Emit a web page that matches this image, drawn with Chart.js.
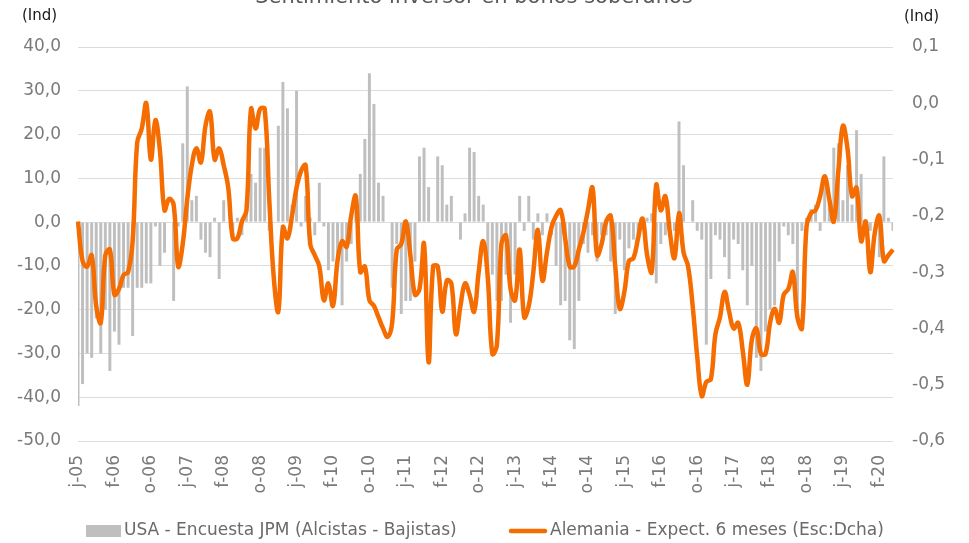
<!DOCTYPE html>
<html>
<head>
<meta charset="utf-8">
<script src="https://cdn.jsdelivr.net/npm/chart.js@4/dist/chart.umd.min.js"></script>
<style>body{margin:0;background:#fff}</style>
</head>
<body>
<canvas id="chartS" width="969" height="543"></canvas>
<script>
var titulo = 'Sentimiento inversor en bonos soberanos';
var unidad = '(Ind)';
var startYear = 2005, startMonth = 5; // junio 2005
var mesIni = ['e','f','m','a','m','j','j','a','s','o','n','d'];

// USA - Encuesta JPM (Alcistas - Bajistas), eje izq.
var encuestaUSA = [
  -42,-37,-30,-31,-22,-30,-20,-34,-25,-28,
  -15,-15,-26,-15,-15,-14,-14,-1,-10,-7,
  0,-18,-1,18,31,5,6,-4,-7,-8,
  1,-13,5,0,-3,1,-3,2,11,9,
  17,17,-2,0,22,32,26,4,30,-1,
  6,1,-3,9,-1,-11,-9,-10,-19,-9,
  -5,3,11,19,34,27,9,6,0,-15,
  -5,-21,-18,-18,-9,15,17,8,0,15,
  13,4,6,0,-4,2,17,16,6,4,
  -12,-12,-18,-18,-12,-23,-12,6,-2,6,
  -4,2,-3,2,-3,-10,-19,-18,-27,-29,
  -18,-5,-7,-3,-9,-3,-3,-9,-21,-4,
  -11,-6,-4,-3,-1,1,2,-14,-5,-3,
  -1,-2,23,13,0,5,-2,-4,-28,-13,
  -3,-4,-8,-13,-4,-5,-11,-19,-10,-31,
  -34,-25,-20,-19,-9,-1,-3,-5,-21,-2,
  1,3,4,-2,11,5,17,18,5,13,
  4,21,11,-2,-2,0,-8,15,1,-2
];

// Alemania - Expect. 6 meses, eje dcho.
var expectAlemania = [
  -0.21,-0.28,-0.29,-0.27,-0.36,-0.39,-0.27,-0.26,-0.34,-0.33,
  -0.305,-0.30,-0.245,-0.07,-0.045,0.0,-0.10,-0.03,-0.085,-0.19,
  -0.17,-0.18,-0.29,-0.25,-0.17,-0.11,-0.08,-0.105,-0.04,-0.015,
  -0.10,-0.08,-0.11,-0.15,-0.24,-0.24,-0.21,-0.19,-0.01,-0.045,
  -0.01,-0.01,-0.17,-0.31,-0.37,-0.22,-0.24,-0.20,-0.15,-0.12,
  -0.11,-0.25,-0.27,-0.29,-0.35,-0.32,-0.36,-0.28,-0.245,-0.255,
  -0.20,-0.165,-0.30,-0.29,-0.35,-0.36,-0.38,-0.40,-0.415,-0.39,
  -0.26,-0.25,-0.21,-0.27,-0.34,-0.33,-0.25,-0.46,-0.29,-0.29,
  -0.37,-0.315,-0.32,-0.41,-0.36,-0.32,-0.34,-0.37,-0.30,-0.245,
  -0.31,-0.445,-0.43,-0.25,-0.235,-0.33,-0.35,-0.26,-0.38,-0.36,
  -0.30,-0.225,-0.315,-0.265,-0.22,-0.20,-0.19,-0.24,-0.29,-0.29,
  -0.26,-0.23,-0.19,-0.15,-0.27,-0.25,-0.21,-0.20,-0.29,-0.365,
  -0.335,-0.28,-0.275,-0.24,-0.205,-0.27,-0.30,-0.145,-0.19,-0.165,
  -0.23,-0.275,-0.195,-0.265,-0.29,-0.36,-0.45,-0.52,-0.495,-0.49,
  -0.41,-0.38,-0.335,-0.37,-0.40,-0.39,-0.44,-0.50,-0.42,-0.40,
  -0.445,-0.445,-0.39,-0.365,-0.39,-0.34,-0.33,-0.30,-0.38,-0.40,
  -0.22,-0.195,-0.19,-0.165,-0.13,-0.17,-0.21,-0.12,-0.04,-0.08,
  -0.165,-0.15,-0.245,-0.21,-0.30,-0.23,-0.20,-0.28,-0.27,-0.26
];

var barColor = '#BFBFBF';
var lineColor = '#F56C00';
var textColor = '#7a7a7a';

var labels = [];
for (var k = 0; k < encuestaUSA.length; k++) {
  var m = (startMonth + k) % 12;
  var y = startYear + Math.floor((startMonth + k) / 12);
  labels.push(mesIni[m] + '-' + String(y % 100).padStart(2, '0'));
}

function coma(v) {
  if (Math.abs(v) < 1e-9) v = 0;
  return v.toFixed(1).replace('.', ',');
}

Chart.defaults.font.family = '"DejaVu Sans", sans-serif';
Chart.defaults.color = textColor;

// titulo, unidades y leyenda dibujados a mano
var extras = {
  id: 'extras',
  afterDraw: function(chart) {
    var ctx = chart.ctx;
    var ds = chart.data.datasets;
    ctx.save();
    ctx.fillStyle = '#595959';
    ctx.font = '21px "DejaVu Sans"';
    ctx.textAlign = 'center';
    ctx.textBaseline = 'alphabetic';
    ctx.fillText(titulo, 474, 3);

    ctx.fillStyle = '#1a1a1a';
    ctx.font = '15px "DejaVu Sans"';
    ctx.textBaseline = 'middle';
    ctx.textAlign = 'left';
    ctx.fillText(unidad, 22, 16);
    ctx.fillText(unidad, 904, 17);

    ctx.font = '17px "DejaVu Sans"';
    ctx.fillStyle = barColor;
    ctx.fillRect(86, 525, 35, 12);
    ctx.fillStyle = '#6a6a6a';
    ctx.fillText(ds[0].label, 124, 531);
    ctx.strokeStyle = lineColor;
    ctx.lineWidth = 4.5;
    ctx.lineCap = 'round';
    ctx.beginPath();
    ctx.moveTo(511, 531);
    ctx.lineTo(545, 531);
    ctx.stroke();
    ctx.fillText(ds[1].label, 550, 531);
    ctx.restore();
  }
};

var ctx = document.getElementById('chartS');
var chartS = new Chart(ctx, {
  type: 'bar',
  data: {
    labels: labels,
    datasets: [{
      type: 'bar',
      label: 'USA - Encuesta JPM (Alcistas - Bajistas)',
      data: encuestaUSA,
      backgroundColor: barColor,
      yAxisID: 'y',
      order: 2,
      barPercentage: 0.65,
      categoryPercentage: 1
    }, {
      type: 'line',
      label: 'Alemania - Expect. 6 meses (Esc:Dcha)',
      data: expectAlemania,
      borderColor: lineColor,
      backgroundColor: lineColor,
      borderWidth: 4.5,
      pointRadius: 0,
      tension: 0.4,
      fill: false,
      yAxisID: 'y2',
      order: 1
    }]
  },
  options: {
    responsive: false,
    animation: false,
    devicePixelRatio: 1,
    layout: { padding: { top: 47, left: 0, right: 0, bottom: 0 } },
    plugins: {
      legend: { display: false },
      title: { display: false },
      tooltip: { enabled: false }
    },
    scales: {
      x: {
        offset: false,
        grid: { display: false, drawTicks: false },
        border: { display: false },
        ticks: {
          autoSkip: false,
          minRotation: 90,
          maxRotation: 90,
          padding: 14,
          font: { size: 17 },
          callback: function(v, i) { return i % 8 === 0 ? this.getLabelForValue(v) : null; }
        },
        afterFit: function(s) { s.height = 102; }
      },
      y: {
        position: 'left',
        min: -50,
        max: 40,
        grid: { color: '#dcdcdc', drawTicks: false },
        border: { display: false },
        ticks: { stepSize: 10, padding: 17, font: { size: 17 }, callback: coma },
        afterFit: function(s) { s.width = 78; }
      },
      y2: {
        position: 'right',
        min: -0.6,
        max: 0.1,
        grid: { display: false, drawTicks: false },
        border: { display: false },
        ticks: { stepSize: 0.1, padding: 19, font: { size: 17 }, callback: coma },
        afterFit: function(s) { s.width = 76; }
      }
    }
  },
  plugins: [extras]
});
</script>
</body>
</html>
